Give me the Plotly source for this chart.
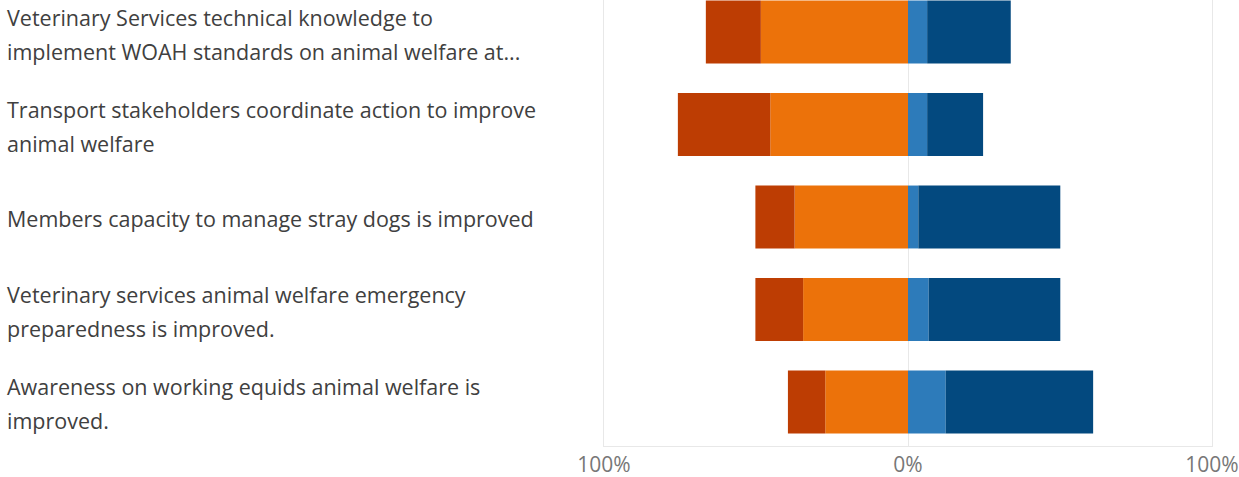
import plotly.graph_objects as go

# Statements (top to bottom), with a line break where the label wraps
categories = [
    "Veterinary Services technical knowledge to<br>implement WOAH standards on animal welfare at...",
    "Transport stakeholders coordinate action to improve<br>animal welfare",
    "Members capacity to manage stray dogs is improved",
    "Veterinary services animal welfare emergency<br>preparedness is improved.",
    "Awareness on working equids animal welfare is<br>improved.",
]

# Share of responses per statement (%)
strongly_disagree = [18.1, 30.4, 12.9, 15.7, 12.3]
disagree = [48.4, 45.3, 37.3, 34.5, 27.2]
agree = [6.3, 6.3, 3.4, 6.8, 12.4]
strongly_agree = [27.5, 18.4, 46.7, 43.3, 48.5]

tick_vals = [-100, 0, 100]
tick_text = ["100%", "0%", "100%"]

COL_SD = "#BD3D03"
COL_D = "#EC720A"
COL_A = "#2D7BBA"
COL_SA = "#03497F"
GRID = "#e8e8e8"

ypos = list(range(len(categories)))

fig = go.Figure()
# negative side: the trace added first sits next to zero
fig.add_trace(go.Bar(y=ypos, x=[-v for v in disagree], orientation="h",
                     name="Disagree", marker=dict(color=COL_D, line=dict(width=0))))
fig.add_trace(go.Bar(y=ypos, x=[-v for v in strongly_disagree], orientation="h",
                     name="Strongly disagree", marker=dict(color=COL_SD, line=dict(width=0))))
fig.add_trace(go.Bar(y=ypos, x=agree, orientation="h",
                     name="Agree", marker=dict(color=COL_A, line=dict(width=0))))
fig.add_trace(go.Bar(y=ypos, x=strongly_agree, orientation="h",
                     name="Strongly agree", marker=dict(color=COL_SA, line=dict(width=0))))

LEFT, RIGHT = 604, 1212
W, H = 1239, 477
plot_w = RIGHT - LEFT
label_x = (5 - LEFT) / plot_w

annotations = []
for i, cat in enumerate(categories):
    lines = cat.split("<br>")
    n = len(lines)
    for j, line in enumerate(lines):
        shift = 2 + (j - (n - 1) / 2) * 34
        annotations.append(dict(
            x=label_x, xref="paper", y=i, yref="y", yshift=-shift,
            text=line, showarrow=False, xanchor="left", yanchor="middle",
            font=dict(family="Open Sans, sans-serif", size=21.5, color="#404040"),
        ))

fig.update_layout(
    width=W, height=H,
    barmode="relative",
    bargap=0.32,
    showlegend=False,
    plot_bgcolor="white",
    paper_bgcolor="white",
    margin=dict(l=LEFT, r=W - RIGHT, t=0, b=H - 446, autoexpand=False),
    annotations=annotations,
    xaxis=dict(
        range=[-100, 100],
        tickvals=tick_vals, ticktext=tick_text,
        showgrid=True, gridcolor=GRID, gridwidth=1,
        zeroline=True, zerolinecolor=GRID, zerolinewidth=1,
        showline=True, linecolor=GRID, linewidth=1,
        ticks="", ticklabelstandoff=0, automargin=False,
        tickfont=dict(family="Open Sans, sans-serif", size=21, color="#777777"),
        fixedrange=True,
    ),
    yaxis=dict(
        range=[4.476, -0.346],
        showticklabels=False, showgrid=False, zeroline=False, ticks="",
        showline=True, mirror=True, linecolor=GRID, linewidth=1,
        automargin=False, fixedrange=True,
    ),
)

fig.write_html("out.html")
